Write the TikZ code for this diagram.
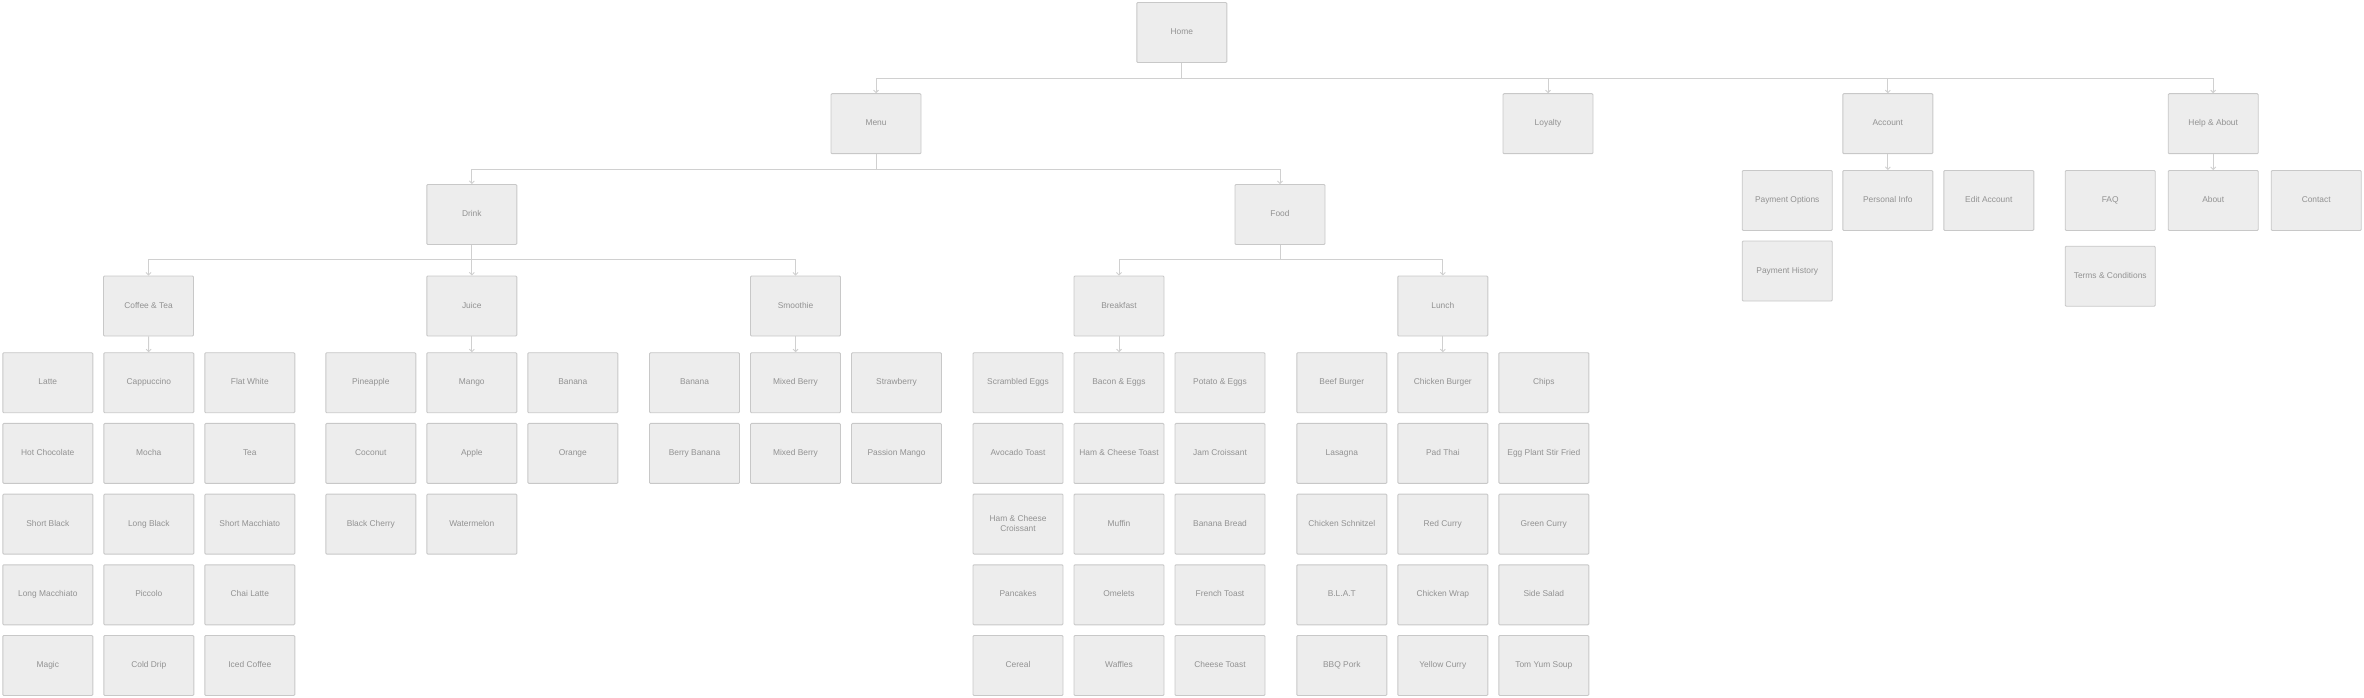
\documentclass[tikz,border=0pt]{standalone}
\usepackage{fontspec}
\setmainfont{Liberation Sans}
\usetikzlibrary{arrows.meta}
\definecolor{boxfill}{HTML}{EDEDED}
\definecolor{boxline}{HTML}{C8C8C8}
\definecolor{linkgray}{HTML}{D0D0D0}
\definecolor{labelgray}{HTML}{929292}

\begin{document}
\begin{tikzpicture}[x=1pt,y=-1pt,
		page/.style={draw=boxline,fill=boxfill,line width=0.9pt,rounded corners=1pt,minimum width=90pt,minimum height=60pt,inner sep=0pt,text=labelgray,font=\fontsize{8.4}{9.6}\selectfont,align=center,execute at begin node=\vphantom{Ag}},
		link/.style={draw=linkgray,line width=0.9pt,-{Straight Barb[length=2.5pt,width=5pt]}}]
			\useasboundingbox (0,0) rectangle (2364,698);
			% top levels
			\node[page] (home) at (1181.8,32.5) {Home};
			\node[page] (menu) at (876,123.7) {Menu};
			\node[page] (loyalty) at (1548,123.7) {Loyalty};
			\node[page] (account) at (1887.8,123.7) {Account};
			\node[page] (help) at (2213.2,123.7) {Help \& About};
			\node[page] (drink) at (471.8,214.5) {Drink};
			\node[page] (food) at (1280,214.5) {Food};
			\node[page] (coffee) at (148.5,306) {Coffee \& Tea};
			\node[page] (juice) at (471.8,306) {Juice};
			\node[page] (smoothie) at (795.5,306) {Smoothie};
			\node[page] (breakfast) at (1119,306) {Breakfast};
			\node[page] (lunch) at (1442.8,306) {Lunch};
			% leaf pages, three per row
			\foreach \g/\gx/\items in {
				cof/47.8/{Latte,Cappuccino,Flat White,Hot Chocolate,Mocha,Tea,Short Black,Long Black,Short Macchiato,Long Macchiato,Piccolo,Chai Latte,Magic,Cold Drip,Iced Coffee},
				jui/370.8/{Pineapple,Mango,Banana,Coconut,Apple,Orange,Black Cherry,Watermelon},
				smo/694.5/{Banana,Mixed Berry,Strawberry,Berry Banana,Mixed Berry,Passion Mango},
				bre/1018/{Scrambled Eggs,Bacon \& Eggs,Potato \& Eggs,Avocado Toast,Ham \& Cheese Toast,Jam Croissant,Ham \& Cheese\\Croissant,Muffin,Banana Bread,Pancakes,Omelets,French Toast,Cereal,Waffles,Cheese Toast},
				lun/1341.8/{Beef Burger,Chicken Burger,Chips,Lasagna,Pad Thai,Egg Plant Stir Fried,Chicken Schnitzel,Red Curry,Green Curry,B.L.A.T,Chicken Wrap,Side Salad,BBQ Pork,Yellow Curry,Tom Yum Soup}}
				\foreach \t [count=\i from 0] in \items
					\node[page] (\g\i) at ({\gx+101*mod(\i,3)},{382.7+70.7*int(\i/3)}) {\t};
			\node[page] (acc0) at (1787.2,200.5) {Payment Options};
			\node[page] (acc1) at (1887.8,200.5) {Personal Info};
			\node[page] (acc2) at (1988.8,200.5) {Edit Account};
			\node[page] (acc3) at (1787.2,271) {Payment History};
			\node[page] (hlp0) at (2110.2,200.5) {FAQ};
			\node[page] (hlp1) at (2213.2,200.5) {About};
			\node[page] (hlp2) at (2316.2,200.5) {Contact};
			\node[page] (hlp3) at (2110.2,276.2) {Terms \& Conditions};
			% connectors
			\foreach \c in {menu,loyalty,account,help}
				\draw[link] (home.south) -- ++(0,15.6) -| (\c.north);
			\foreach \c in {drink,food}
				\draw[link] (menu.south) -- ++(0,15.3) -| (\c.north);
			\foreach \c in {coffee,juice,smoothie}
				\draw[link] (drink.south) -- ++(0,14.6) -| (\c.north);
			\foreach \c in {breakfast,lunch}
				\draw[link] (food.south) -- ++(0,14.6) -| (\c.north);
			\foreach \p/\c in {coffee/cof1,juice/jui1,smoothie/smo1,breakfast/bre1,lunch/lun1,account/acc1,help/hlp1}
				\draw[link] (\p) -- (\c);
		\end{tikzpicture}
\end{document}
